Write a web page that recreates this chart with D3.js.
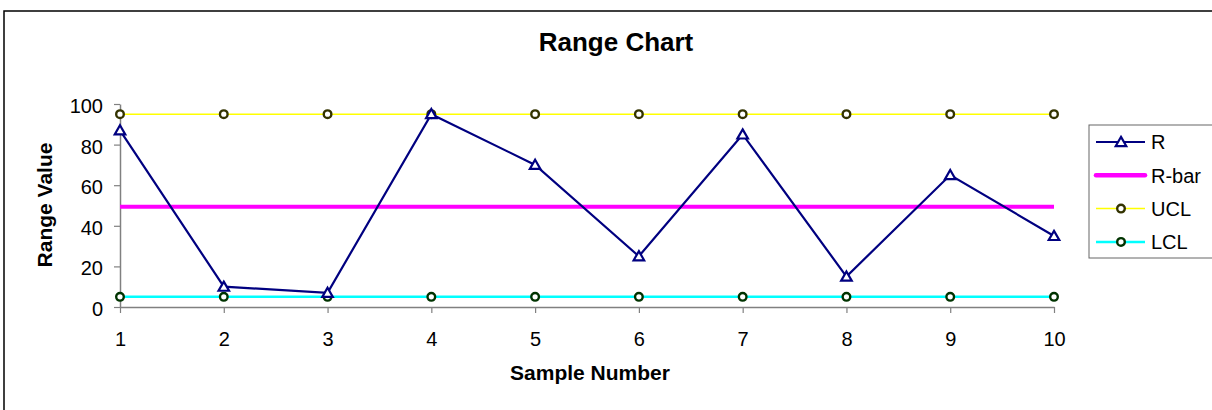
<!DOCTYPE html>
<html>
<head>
<meta charset="utf-8">
<script src="https://cdn.jsdelivr.net/npm/d3@7"></script>
<style>
  body { margin: 0; background: #fff; }
  text { font-family: "Liberation Sans", Arial, sans-serif; }
</style>
</head>
<body>
<div id="viz-container"></div>
<script>
// data
let samples = [1, 2, 3, 4, 5, 6, 7, 8, 9, 10];
let rValues = [87, 10, 7, 95, 70, 25, 85, 15, 65, 35];
let rBar = [49.4, 49.4, 49.4, 49.4, 49.4, 49.4, 49.4, 49.4, 49.4, 49.4];
let ucl = [95, 95, 95, 95, 95, 95, 95, 95, 95, 95];
let lcl = [5, 5, 5, 5, 5, 5, 5, 5, 5, 5];
let yTicks = [0, 20, 40, 60, 80, 100];
let legendNames = ["R", "R-bar", "UCL", "LCL"];

let width = 1212, height = 410;

let viz = d3.select("#viz-container")
  .append("svg")
    .attr("width", width)
    .attr("height", height)
;

// chart frame
viz.append("rect")
  .attr("x", 4).attr("y", 11)
  .attr("width", 1220).attr("height", 420)
  .attr("fill", "white")
  .attr("stroke", "black")
  .attr("stroke-width", 1.5)
;

let x = d3.scaleLinear().domain([1, 10]).range([120, 1054]);
let y = d3.scaleLinear().domain([0, 100]).range([307, 104]);

// axes
let xAxis = viz.append("g")
  .attr("transform", "translate(0," + y(0) + ")")
  .call(d3.axisBottom(x).tickValues(samples).tickSize(6).tickPadding(19).tickSizeOuter(0));
let yAxis = viz.append("g")
  .attr("transform", "translate(" + x(1) + ",0)")
  .call(d3.axisLeft(y).tickValues(yTicks).tickSize(6).tickPadding(11).tickSizeOuter(0));

[xAxis, yAxis].forEach(function(a){
  a.select(".domain").attr("stroke", "#808080").attr("stroke-width", 1.5);
  a.selectAll(".tick line").attr("stroke", "#808080").attr("stroke-width", 1.2);
  a.selectAll(".tick text")
    .attr("fill", "black")
    .attr("font-size", 20)
    .attr("font-family", "Liberation Sans, Arial, sans-serif");
});
yAxis.selectAll(".tick text").attr("dy", "0.42em");

// titles
viz.append("text")
  .attr("x", 616).attr("y", 51)
  .attr("text-anchor", "middle")
  .attr("font-size", 26).attr("font-weight", "bold")
  .text("Range Chart");
viz.append("text")
  .attr("x", 590).attr("y", 380)
  .attr("text-anchor", "middle")
  .attr("font-size", 21).attr("font-weight", "bold")
  .text("Sample Number");
viz.append("text")
  .attr("transform", "translate(52,205) rotate(-90)")
  .attr("text-anchor", "middle")
  .attr("font-size", 21).attr("font-weight", "bold")
  .text("Range Value");

function lineFor(values){
  return d3.line()
    .x(function(d, i){ return x(samples[i]); })
    .y(function(d){ return y(d); })(values);
}

let triangle = d3.symbol().type(d3.symbolTriangle).size(48);

// UCL
viz.append("path").attr("d", lineFor(ucl))
  .attr("fill", "none").attr("stroke", "#ffff00").attr("stroke-width", 1.5);
// LCL
viz.append("path").attr("d", lineFor(lcl))
  .attr("fill", "none").attr("stroke", "#00ffff").attr("stroke-width", 2.5);
// R-bar
viz.append("path").attr("d", lineFor(rBar))
  .attr("fill", "none").attr("stroke", "#ff00ff").attr("stroke-width", 4);
// R
viz.append("path").attr("d", lineFor(rValues))
  .attr("fill", "none").attr("stroke", "#000080").attr("stroke-width", 2.2);

viz.selectAll(".ucl-pt").data(ucl).enter()
  .append("circle")
    .attr("cx", function(d, i){ return x(samples[i]); })
    .attr("cy", function(d){ return y(d); })
    .attr("r", 3.8)
    .attr("fill", "white").attr("stroke", "#333300").attr("stroke-width", 2.4);
viz.selectAll(".lcl-pt").data(lcl).enter()
  .append("circle")
    .attr("cx", function(d, i){ return x(samples[i]); })
    .attr("cy", function(d){ return y(d); })
    .attr("r", 3.8)
    .attr("fill", "white").attr("stroke", "#003300").attr("stroke-width", 2.4);
viz.selectAll(".r-pt").data(rValues).enter()
  .append("path")
    .attr("d", triangle)
    .attr("transform", function(d, i){ return "translate(" + x(samples[i]) + "," + (y(d) + 1) + ")"; })
    .attr("fill", "white").attr("stroke", "#000080").attr("stroke-width", 2.2);

// legend
let legend = viz.append("g").attr("transform", "translate(1089,125)");
legend.append("rect")
  .attr("width", 130).attr("height", 133)
  .attr("fill", "white").attr("stroke", "#666").attr("stroke-width", 1);

let legendStyles = [
  {stroke: "#000080", w: 2.2, marker: "tri", mstroke: "#000080"},
  {stroke: "#ff00ff", w: 4.5, marker: null},
  {stroke: "#ffff00", w: 1.5, marker: "circ", mstroke: "#333300"},
  {stroke: "#00ffff", w: 2.5, marker: "circ", mstroke: "#003300"}
];

let items = legend.selectAll(".item").data(legendNames).enter()
  .append("g")
  .attr("class", "item")
  .attr("transform", function(d, i){ return "translate(0," + (17 + i * 33.3) + ")"; });

items.append("line")
  .attr("x1", 7).attr("x2", 56)
  .attr("stroke", function(d, i){ return legendStyles[i].stroke; })
  .attr("stroke-width", function(d, i){ return legendStyles[i].w; })
  .attr("stroke-linecap", function(d, i){ return i == 1 ? "round" : "butt"; });

items.each(function(d, i){
  let s = legendStyles[i];
  let g = d3.select(this);
  if (s.marker == "tri"){
    g.append("path").attr("d", triangle)
      .attr("transform", "translate(32,1)")
      .attr("fill", "white").attr("stroke", s.mstroke).attr("stroke-width", 2.2);
  } else if (s.marker == "circ"){
    g.append("circle").attr("cx", 32).attr("r", 3.8)
      .attr("fill", "white").attr("stroke", s.mstroke).attr("stroke-width", 2.4);
  }
});

items.append("text")
  .attr("x", 62).attr("dy", "0.36em")
  .attr("font-size", 20)
  .text(function(d){ return d; });
</script>
</body>
</html>
